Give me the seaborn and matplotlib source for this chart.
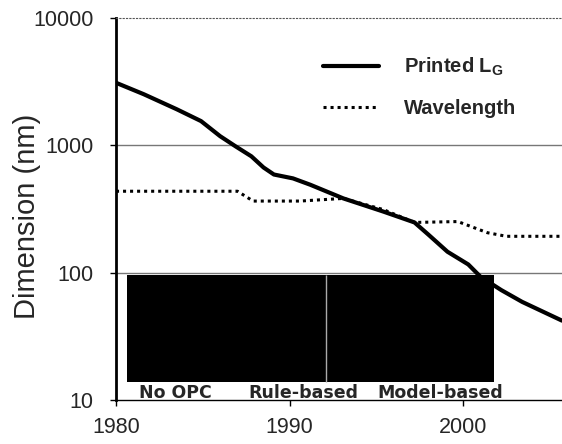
import numpy as np
import matplotlib.pyplot as plt
import seaborn as sns

# Printed gate length (nm) vs year
lg_years = [1980, 1981.6, 1983.5, 1984.9, 1986.0, 1986.9, 1987.8, 1988.5, 1989.1,
            1990.2, 1991.2, 1993.1, 1995.4, 1997.2, 1998.0, 1999.1, 2000.3,
            2001.0, 2002.2, 2003.4, 2005.7]
lg_nm = [3100, 2520, 1920, 1550, 1180, 980, 820, 670, 590,
         550, 490, 383, 302, 248, 199, 146, 116,
         93, 73, 59, 42]

# Lithography wavelength (nm) vs year
wl_years = [1980, 1987.0, 1987.9, 1990.6, 1993.1, 1995.4, 1997.2, 1999.7, 2001.4, 2002.5, 2005.7]
wl_nm = [436, 436, 365, 365, 383, 313, 248, 252, 206, 193, 193]

# OPC era boxes
opc_labels = ["No OPC", "Rule-based", "Model-based"]
opc_label_x = [1983.4, 1990.8, 1998.7]
box_edges = [1980.64, 1992.1, 2001.8]
box_low, box_high = 13.9, 96

sns.set_style("white")
plt.rcParams['font.family'] = ['Liberation Sans', 'DejaVu Sans']
plt.rcParams['mathtext.fontset'] = 'custom'
plt.rcParams['mathtext.rm'] = 'Liberation Sans:bold'
plt.rcParams['mathtext.it'] = 'Liberation Sans:bold'
plt.rcParams['mathtext.bf'] = 'Liberation Sans:bold'

fig = plt.figure(figsize=(5.62, 4.44), dpi=100)
ax = fig.add_axes([116 / 562, 44 / 444, 1 - 116 / 562, (400 - 18) / 444])

ax.set_yscale('log')
ax.set_xlim(1980, 2005.7)
ax.set_ylim(10, 10000)

# gridlines
for g in [100, 1000]:
    ax.axhline(g, color='#777777', lw=1, zorder=0)

# black OPC boxes
ax.bar(box_edges[:-1], box_high - box_low, width=np.diff(box_edges), bottom=box_low,
       align='edge', color='black', edgecolor='none', zorder=2)
ax.vlines(box_edges[1], box_low, box_high, color='#aaaaaa', lw=1, zorder=3)
for lab, x in zip(opc_labels, opc_label_x):
    ax.text(x, 10.37, lab, ha='center', va='baseline', fontsize=12.5,
            fontweight='heavy', family='DejaVu Sans', zorder=4)

sns.lineplot(x=lg_years, y=lg_nm, ax=ax, color='black', lw=3,
             label=r"Printed L$_\mathrm{G}$", zorder=5)
sns.lineplot(x=wl_years, y=wl_nm, ax=ax, color='black', lw=2.2,
             dashes=False, label="Wavelength", zorder=5)
ax.lines[-1].set_dashes((1, 1.3))

leg = ax.legend(loc='upper left', bbox_to_anchor=(323 / 562, 1 - 56 / 444),
                bbox_transform=fig.transFigure, frameon=False,
                handlelength=2.8, handletextpad=1.2, labelspacing=1.05,
                borderpad=0, borderaxespad=0,
                prop={'size': 14.5, 'weight': 'bold'})

ax.set_xticks([1980, 1990, 2000])
ax.set_xticklabels(['1980', '1990', '2000'])
ax.set_yticks([10, 100, 1000, 10000])
ax.set_yticklabels(['10', '100', '1000', '10000'])
ax.yaxis.set_minor_locator(plt.NullLocator())
ax.tick_params(axis='both', labelsize=15.5, length=4, width=1, color='black')
ax.tick_params(axis='y', pad=12, direction='out', left=True)
ax.tick_params(axis='x', pad=8, direction='out', bottom=True)

ax.set_ylabel("Dimension (nm)", fontsize=21)
ax.yaxis.set_label_coords((41 - 116) / 446, 0.48)
ax.set_xlabel("")

ax.spines['left'].set_linewidth(2)
ax.spines['left'].set_color('black')
ax.spines['bottom'].set_linewidth(1)
ax.spines['bottom'].set_color('black')
ax.spines['top'].set_linestyle((0, (1, 2)))
ax.spines['top'].set_linewidth(0.8)
ax.spines['top'].set_color('#555555')
ax.spines['right'].set_visible(False)

fig.savefig('out.png', dpi=100)
